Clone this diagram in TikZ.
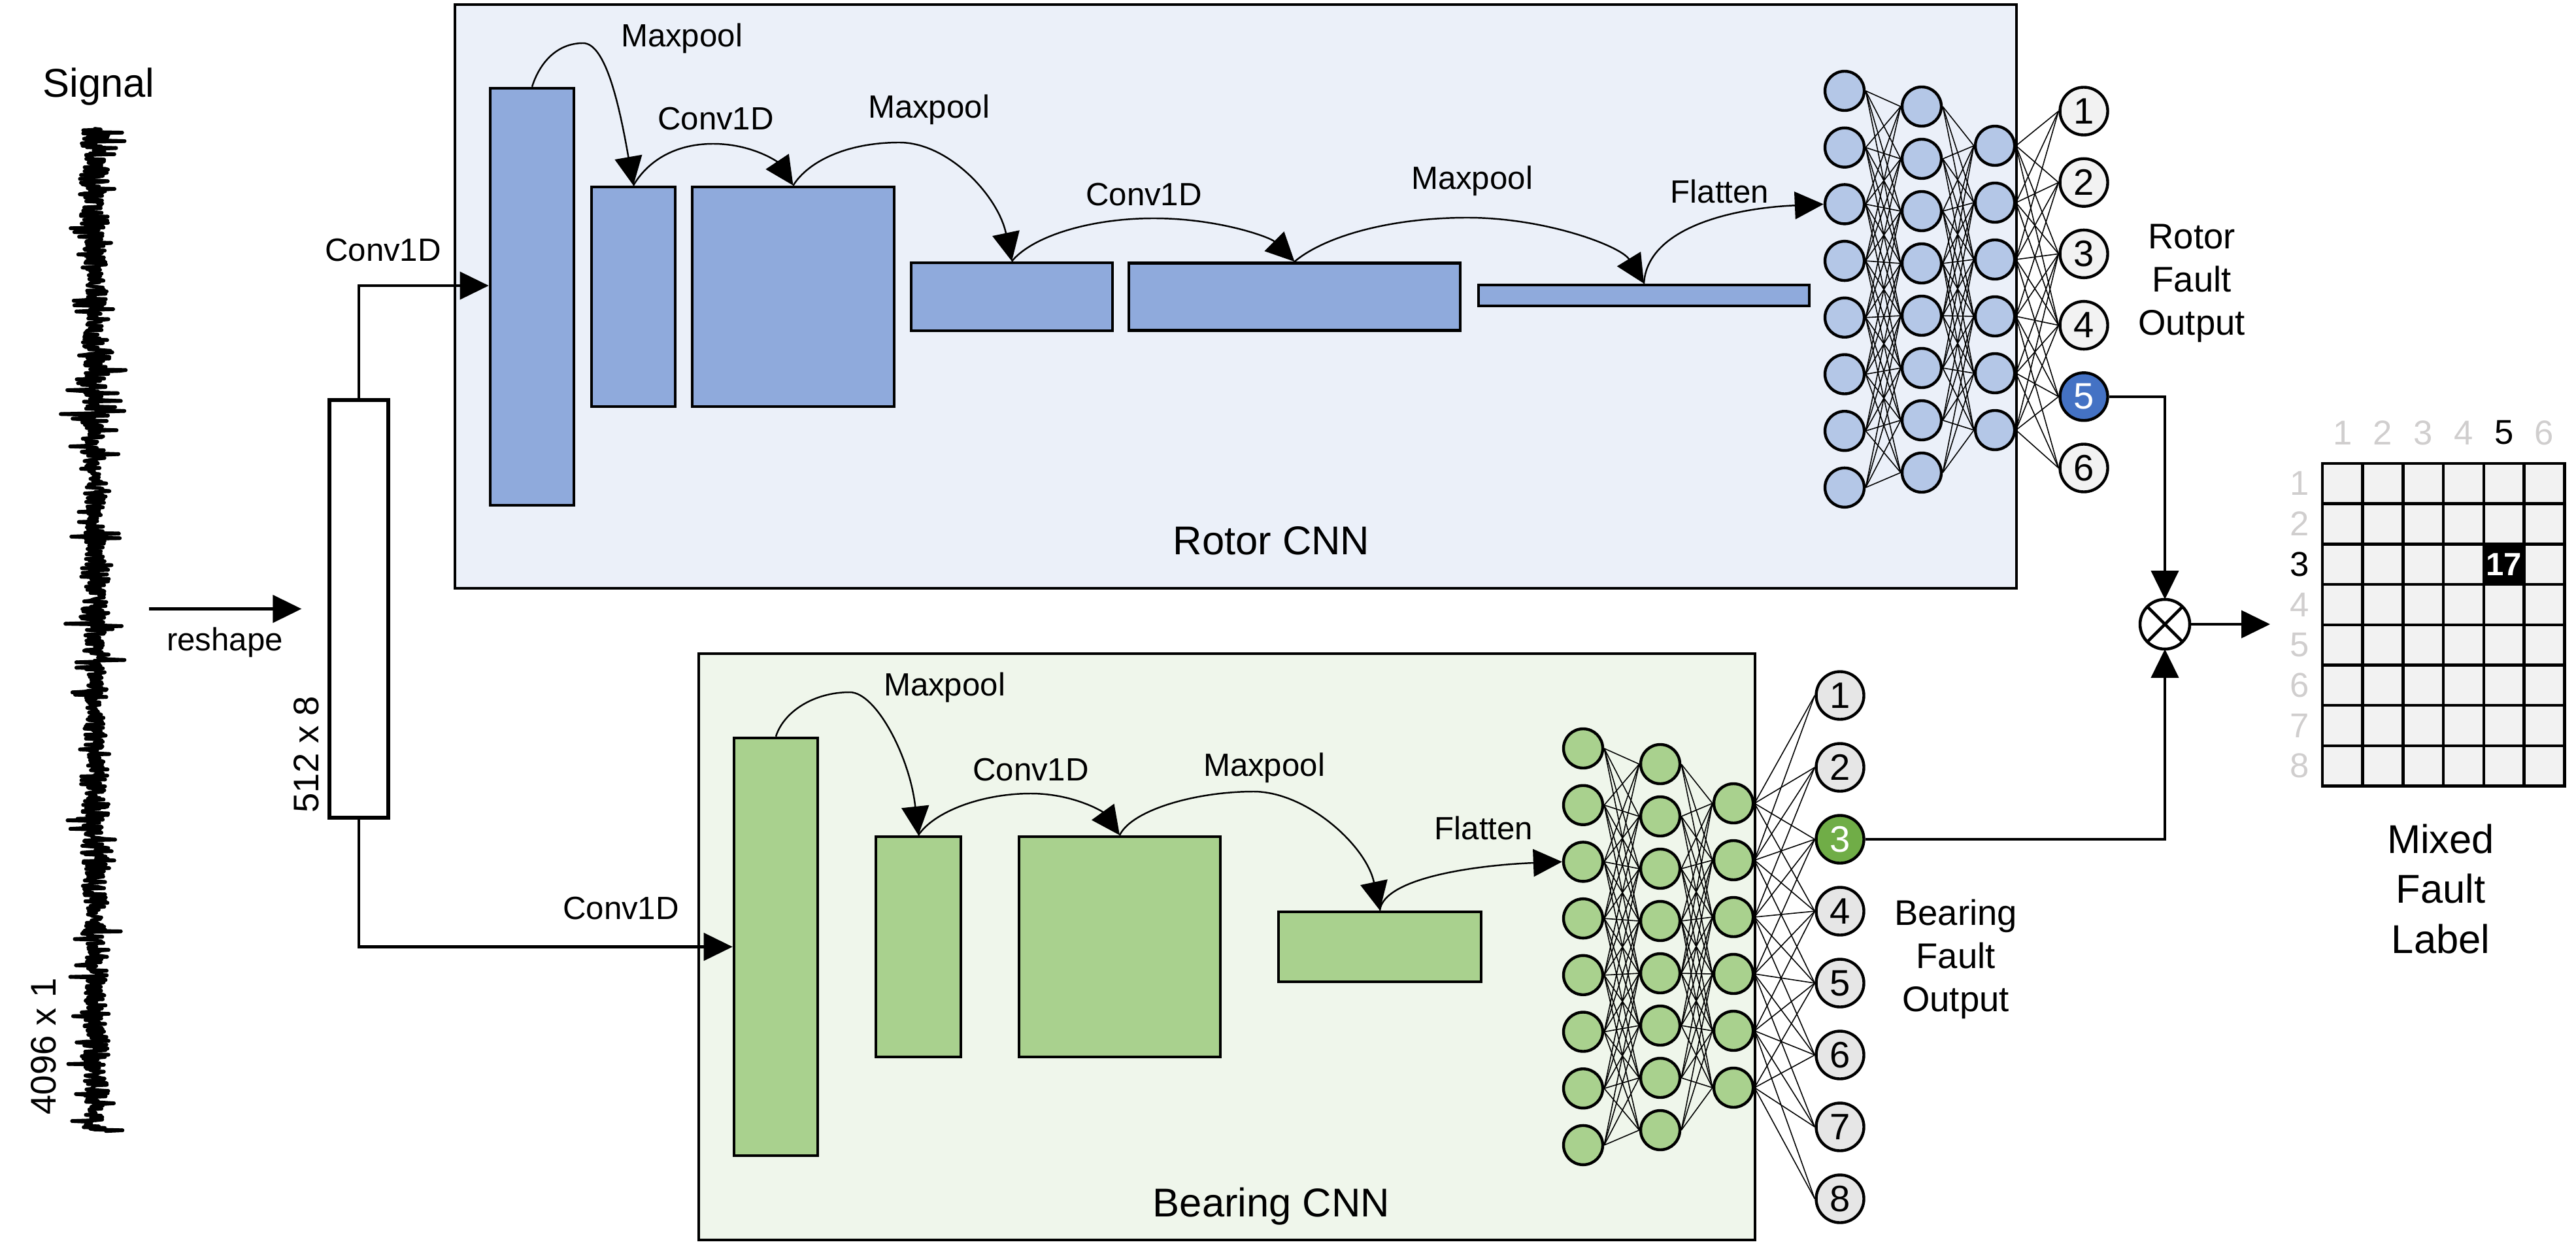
\documentclass[tikz,border=0pt]{standalone}
\usepackage{fontspec}
\setmainfont{Liberation Sans}
\usetikzlibrary{arrows.meta}
\definecolor{rotorbg}{HTML}{EBF0F9}
\definecolor{rotorblock}{HTML}{8FAADC}
\definecolor{rotorcell}{HTML}{B4C7E7}
\definecolor{rotorpick}{HTML}{4472C4}
\definecolor{bearingbg}{HTML}{EFF6EB}
\definecolor{bearingblock}{HTML}{A9D18E}
\definecolor{bearingpick}{HTML}{70AD47}
\definecolor{outgray}{HTML}{F2F2F2}
\definecolor{outgrayb}{HTML}{E6E6E6}
\definecolor{labelgray}{HTML}{D0CECE}

\begin{document}
\begin{tikzpicture}[x=1cm, y=-1cm,
	txt/.style={inner sep=0pt, font=\fontsize{14pt}{16pt}\selectfont},
	numtxt/.style={inner sep=0pt, font=\fontsize{15pt}{17pt}\selectfont},
	bigtxt/.style={inner sep=0pt, align=center, font=\fontsize{17.5pt}{21.8pt}\selectfont},
	midtxt/.style={inner sep=0pt, align=center, font=\fontsize{15.5pt}{18.8pt}\selectfont},
	panel/.style={draw, line width=1.3pt},
	layer/.style 2 args={draw, line width=1.3pt, inner sep=0pt, minimum width=#1, minimum height=#2},
	neuron/.style={circle, draw, line width=1.25pt, inner sep=0pt, minimum size=0.6cm},
	outnode/.style={circle, draw, line width=1.25pt, inner sep=0pt, minimum size=0.73cm, font=\fontsize{16pt}{18pt}\selectfont},
	cell/.style={draw, line width=1.3pt, inner sep=0pt, minimum size=0.617cm, fill=outgray},
	link/.style={line width=0.45pt},
	flow/.style={line width=1.2pt, -{Triangle[length=4.4mm, width=4.2mm]}},
	hop/.style={line width=0.7pt, -{Triangle[length=4.4mm, width=4.2mm]}},
	wave/.style={line width=1.6pt, line cap=round}
]

\def\W{39.41}
\def\H{19.2}
\useasboundingbox (0,0) rectangle (\W,\H);

% Panels
\draw [panel, fill=rotorbg] (6.96,0.07) rectangle (30.85,9.0);
\draw [panel, fill=bearingbg] (10.69,10.0) rectangle (26.85,18.97);

% Signal
\def\sigx{1.45}
\def\sigdy{0.0118}
\pgfmathsetseed{4096}
\xdef\px{\sigx}
\foreach \k in {1,...,1300}{
	\pgfmathsetmacro\amp{(0.17+0.04*sin(\k*7)+0.03*sin(\k*1.3))*(rnd>0.88 ? 2.4 : 1)}
	\pgfmathsetmacro\sx{\sigx+\amp*(2*rnd-1)}
	\draw [wave] (\px,{1.97+(\k-1)*\sigdy}) -- (\sx,{1.97+\k*\sigdy});
	\xdef\px{\sx}
}
\node [bigtxt] (signal) at (1.51,1.33) {Signal};
\node [midtxt, rotate=90] (sigsize) at (0.67,16.01) {4096 x 1};

% Reshape
\node [layer={0.9cm}{6.39cm}, line width=1.5pt, fill=white] (rs) at (5.49,9.315) {};
\node [midtxt, rotate=90] (rssize) at (4.69,11.54) {512 x 8};
\coordinate (sigout) at (2.28,9.315);
\draw [flow] (sigout) -- ([xshift=-4mm]rs.west);
\node [txt] (reshape) at (3.44,9.83) {reshape};

% Rotor blocks
\node [layer={1.28cm}{6.38cm}, fill=rotorblock] (r1) at (8.14,4.54) {};
\node [layer={1.28cm}{3.36cm}, fill=rotorblock] (r2) at (9.69,4.54) {};
\node [layer={3.09cm}{3.36cm}, fill=rotorblock] (r3) at (12.135,4.54) {};
\node [layer={3.08cm}{1.04cm}, fill=rotorblock] (r4) at (15.48,4.54) {};
\node [layer={5.07cm}{1.03cm}, fill=rotorblock] (r5) at (19.805,4.54) {};
\node [layer={5.06cm}{0.32cm}, fill=rotorblock] (r6) at (25.15,4.52) {};

% Bearing blocks
\node [layer={1.28cm}{6.39cm}, fill=bearingblock] (b1) at (11.87,14.485) {};
\node [layer={1.30cm}{3.37cm}, fill=bearingblock] (b2) at (14.05,14.485) {};
\node [layer={3.08cm}{3.37cm}, fill=bearingblock] (b3) at (17.13,14.485) {};
\node [layer={3.10cm}{1.07cm}, fill=bearingblock] (b4) at (21.11,14.485) {};

% Inputs
\draw [flow] (rs.north) |- ([yshift=1.7mm]r1.west);
\draw [flow] (rs.south) |- (b1.west);
\node [txt] (rconv0) at (5.86,3.83) {Conv1D};
\node [txt] (bconv0) at (9.5,13.9) {Conv1D};

% Hidden layers
\foreach \net/\dx/\dy/\col in {r/0/0/rotorcell, b/-4.0/10.06/bearingblock}{
	\foreach \i in {1,...,8}
		\node [neuron, fill=\col] (\net a\i) at ({28.22+\dx}, {1.39+\dy+(\i-1)*0.867}) {};
	\foreach \i in {1,...,8}
		\node [neuron, fill=\col] (\net b\i) at ({29.40+\dx}, {1.63+\dy+(\i-1)*0.80}) {};
	\foreach \i in {1,...,6}
		\node [neuron, fill=\col] (\net c\i) at ({30.52+\dx}, {2.23+\dy+(\i-1)*0.87}) {};
	\foreach \i in {1,...,8}
		\foreach \j in {1,...,8}{
			\pgfmathtruncatemacro\near{abs(0.24+(\j-1)*0.80-(\i-1)*0.867)<2.7}
			\ifnum\near=1 \draw [link] (\net a\i.east) -- (\net b\j.west);\fi
		}
	\foreach \i in {1,...,8}
		\foreach \j in {1,...,6}{
			\pgfmathtruncatemacro\near{abs(0.60+(\j-1)*0.87-(\i-1)*0.80)<2.7}
			\ifnum\near=1 \draw [link] (\net b\i.east) -- (\net c\j.west);\fi
		}
}

% Outputs
\foreach \i/\f/\t in {1/outgray/black,2/outgray/black,3/outgray/black,4/outgray/black,5/rotorpick/white,6/outgray/black}
	\node [outnode, fill=\f, text=\t] (ro\i) at (31.88, {1.70+(\i-1)*1.092}) {\i};
\foreach \i/\f/\t in {1/outgrayb/black,2/outgrayb/black,3/bearingpick/white,4/outgrayb/black,5/outgrayb/black,6/outgrayb/black,7/outgrayb/black,8/outgrayb/black}
	\node [outnode, fill=\f, text=\t] (bo\i) at (28.15, {10.64+(\i-1)*1.10}) {\i};
\foreach \i in {1,...,6}
	\foreach \j in {1,...,6}{
		\pgfmathtruncatemacro\near{abs(-0.53+(\j-1)*1.092-(\i-1)*0.87)<2.8}
		\ifnum\near=1 \draw [link] (rc\i.east) -- (ro\j.west);\fi
	}
\foreach \i in {1,...,6}
	\foreach \j in {1,...,8}{
		\pgfmathtruncatemacro\near{abs(-1.67+(\j-1)*1.10-(\i-1)*0.867)<2.7}
		\ifnum\near=1 \draw [link] (bc\i.east) -- (bo\j.west);\fi
	}

% Rotor arrows
\draw [hop] (r1.north) .. controls +(0.12,-0.38) and +(-0.39,0) .. (8.92,0.66)
	.. controls +(0.35,0) and +(-0.21,-1.2) .. (r2.north);
\draw [hop] (r2.north) .. controls +(0.21,-0.36) and +(-0.6,0) .. (10.91,2.20)
	.. controls +(0.6,0) and +(-0.24,-0.36) .. (r3.north);
\draw [hop] (r3.north) .. controls +(0.23,-0.37) and +(-0.8,0) .. (13.76,2.18)
	.. controls +(0.75,0) and +(-0.21,-1.0) .. (r4.north);
\draw [hop] (r4.north) .. controls +(0.3,-0.37) and +(-1.0,0) .. (17.65,3.34)
	.. controls +(1.0,0) and +(-0.37,-0.37) .. (r5.north);
\draw [hop] (r5.north) .. controls +(0.45,-0.38) and +(-1.2,0) .. (22.45,3.33)
	.. controls +(1.2,0) and +(-0.35,-0.57) .. (r6.north);
\draw [hop] (r6.north) .. controls +(0.05,-0.85) and +(-1.4,0.06) .. (ra3.west);
\node [txt] (rmax1) at (10.43,0.59) {Maxpool};
\node [txt] (rconv1) at (10.95,1.82) {Conv1D};
\node [txt] (rmax2) at (14.21,1.68) {Maxpool};
\node [txt] (rconv2) at (17.5,2.98) {Conv1D};
\node [txt] (rmax3) at (22.52,2.77) {Maxpool};
\node [txt] (rflat) at (26.31,2.93) {Flatten};

% Bearing arrows
\draw [hop] (b1.north) .. controls +(0.12,-0.38) and +(-0.55,0) .. (13.0,10.59)
	.. controls +(0.4,0) and +(-0.13,-1.2) .. (b2.north);
\draw [hop] (b2.north) .. controls +(0.24,-0.36) and +(-0.75,0) .. (15.77,12.14)
	.. controls +(0.65,0) and +(-0.26,-0.36) .. (b3.north);
\draw [hop] (b3.north) .. controls +(0.18,-0.38) and +(-0.9,0) .. (19.18,12.11)
	.. controls +(0.8,0) and +(-0.21,-1.0) .. (b4.north);
\draw [hop] (b4.north) .. controls +(0.06,-0.5) and +(-1.3,0.05) .. (ba3.west);
\node [txt] (bmax1) at (14.45,10.52) {Maxpool};
\node [txt] (bconv1) at (15.77,11.78) {Conv1D};
\node [txt] (bmax2) at (19.34,11.75) {Maxpool};
\node [txt] (bflat) at (22.7,12.67) {Flatten};

% Captions
\node [bigtxt] (rotorcap) at (19.45,8.27) {Rotor CNN};
\node [bigtxt] (bearingcap) at (19.45,18.46) {Bearing CNN};
\node [midtxt] (rotorout) at (33.53,4.33) {Rotor\\Fault\\Output};
\node [midtxt] (bearingout) at (29.92,14.67) {Bearing\\Fault\\Output};

% Combine
\node [circle, draw, line width=1.3pt, inner sep=0pt, outer sep=0pt, minimum size=0.76cm] (mul) at (33.12,9.55) {};
\draw [line width=1.3pt] (mul.north west) -- (mul.south east) (mul.north east) -- (mul.south west);
\draw [flow] (ro5.east) -| (mul.north);
\draw [flow] (bo3.east) -| (mul.south);
\coordinate (mtip) at (34.73,9.55);
\draw [flow] (mul.east) -- (mtip);

% Label matrix
\def\cw{0.617}
\def\mx{35.53}
\def\my{7.09}
\foreach \r in {1,...,8}
	\foreach \c in {1,...,6}
		\node [cell] (m\r-\c) at ({\mx+(\c-0.5)*\cw}, {\my+(\r-0.5)*\cw}) {};
\node [cell, fill=black, text=white, font=\bfseries\fontsize{14pt}{16pt}\selectfont] (hit) at (m3-5) {17};
\foreach \c/\col in {1/labelgray,2/labelgray,3/labelgray,4/labelgray,5/black,6/labelgray}
	\node [numtxt, text=\col] (col\c) at ({\mx+(\c-0.5)*\cw}, 6.62) {\c};
\foreach \r/\col in {1/labelgray,2/labelgray,3/black,4/labelgray,5/labelgray,6/labelgray,7/labelgray,8/labelgray}
	\node [numtxt, text=\col] (row\r) at (35.18, {\my+(\r-0.5)*\cw}) {\r};
\node [bigtxt] (mixed) at (37.34,13.6) {Mixed\\Fault\\Label};

\end{tikzpicture}
\end{document}
